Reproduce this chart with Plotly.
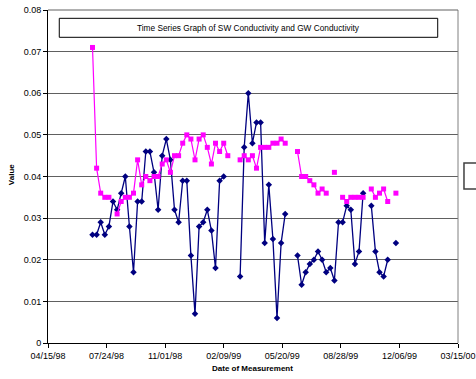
import datetime as dt
import plotly.graph_objects as go

# weekly sampling dates
start = dt.date(1998, 6, 30)
n_points = 75
dates = [start + dt.timedelta(days=7 * i) for i in range(n_points)]

sw_values = [0.026, 0.026, 0.029, 0.026, 0.028, 0.034, 0.032, 0.036, 0.040, 0.028,
             0.017, 0.034, 0.034, 0.046, 0.046, 0.041, 0.032, 0.045, 0.049, 0.044,
             0.032, 0.029, 0.039, 0.039, 0.021, 0.007, 0.028, 0.029, 0.032, 0.027,
             0.018, 0.039, 0.040, None, None, None, 0.016, 0.047, 0.060, 0.048,
             0.053, 0.053, 0.024, 0.038, 0.025, 0.006, 0.024, 0.031, None, None,
             0.021, 0.014, 0.017, 0.019, 0.020, 0.022, 0.020, 0.017, 0.018, 0.015,
             0.029, 0.029, 0.033, 0.032, 0.019, 0.022, 0.036, None, 0.033, 0.022,
             0.017, 0.016, 0.020, None, 0.024]

gw_values = [0.071, 0.042, 0.036, 0.035, 0.035, None, 0.031, 0.034, 0.035, 0.035,
             0.036, 0.044, 0.038, 0.040, 0.039, 0.040, 0.040, 0.043, 0.044, 0.041,
             0.045, 0.045, 0.048, 0.050, 0.049, 0.044, 0.049, 0.050, 0.047, 0.043,
             0.048, 0.046, 0.048, 0.045, None, None, 0.044, 0.045, 0.044, 0.045,
             0.042, 0.047, 0.047, 0.047, 0.048, 0.048, 0.049, 0.048, None, None,
             0.046, 0.040, 0.040, 0.039, 0.038, 0.036, 0.037, 0.036, None, 0.041,
             None, 0.035, 0.034, 0.035, 0.035, 0.035, 0.035, None, 0.037, 0.035,
             0.036, 0.037, 0.034, None, 0.036]

x_tick_dates = ["1998-04-15", "1998-07-24", "1998-11-01", "1999-02-09",
                "1999-05-20", "1999-08-28", "1999-12-06", "2000-03-15"]
x_tick_labels = ["04/15/98", "07/24/98", "11/01/98", "02/09/99",
                 "05/20/99", "08/28/99", "12/06/99", "03/15/00"]
y_tick_vals = [0, 0.01, 0.02, 0.03, 0.04, 0.05, 0.06, 0.07, 0.08]
y_tick_labels = ["0", "0.01", "0.02", "0.03", "0.04", "0.05", "0.06", "0.07", "0.08"]

title_text = "Time Series Graph of SW Conductivity and GW Conductivity"
x_title = "Date of Measurement"
y_title = "Value"
font_family = "Liberation Sans, Arial, sans-serif"

fig = go.Figure()
fig.add_trace(go.Scatter(
    x=dates, y=sw_values, name="SW Conductivity", mode="lines+markers",
    line=dict(color="#000080", width=1.3),
    marker=dict(symbol="diamond", size=5, color="#000080"),
    connectgaps=False,
))
fig.add_trace(go.Scatter(
    x=dates, y=gw_values, name="GW Conductivity", mode="lines+markers",
    line=dict(color="#FF00FF", width=1.2),
    marker=dict(symbol="square", size=5, color="#FF00FF"),
    connectgaps=False,
))

fig.update_layout(
    width=476, height=379,
    margin=dict(l=48, r=18, t=10, b=36, autoexpand=False),
    paper_bgcolor="white", plot_bgcolor="white",
    showlegend=False,
    font=dict(family=font_family, size=9, color="black"),
    xaxis=dict(
        type="date",
        range=[x_tick_dates[0], x_tick_dates[-1]],
        tickvals=x_tick_dates, ticktext=x_tick_labels,
        showgrid=False, zeroline=False,
        showline=True, linecolor="black", linewidth=1,
        ticks="outside", ticklen=4, tickcolor="black",
        tickfont=dict(size=9), automargin=False,
    ),
    yaxis=dict(
        range=[0, 0.08],
        tickvals=y_tick_vals, ticktext=y_tick_labels,
        showgrid=True, gridcolor="#606060", gridwidth=1,
        zeroline=False,
        showline=True, linecolor="black", linewidth=1,
        ticks="outside", ticklen=4, tickcolor="black",
        tickfont=dict(size=9), automargin=False,
    ),
    shapes=[
        dict(type="line", xref="paper", yref="paper", x0=1, x1=1, y0=0, y1=1,
             line=dict(color="#808080", width=1)),
        dict(type="line", xref="paper", yref="paper", x0=0, x1=1, y0=1, y1=1,
             line=dict(color="#606060", width=1)),
        dict(type="rect", xref="paper", yref="paper", x0=0.0275, x1=0.9505,
             y0=0.918, y1=0.975, line=dict(color="black", width=1),
             fillcolor="white", layer="above"),
        dict(type="rect", xref="paper", yref="paper", x0=1.0146, x1=1.2,
             y0=0.4625, y1=0.5405, line=dict(color="#404040", width=1.5),
             fillcolor="white", layer="above"),
    ],
    annotations=[
        dict(text=title_text, xref="paper", yref="paper", x=0.489, y=0.9465,
             showarrow=False, xanchor="center", yanchor="middle",
             font=dict(size=8.3, color="black")),
        dict(text="<b>" + x_title + "</b>", xref="paper", yref="paper",
             x=0.498, y=-0.078, showarrow=False, xanchor="center", yanchor="middle",
             font=dict(size=8, color="black")),
        dict(text="<b>" + y_title + "</b>", xref="paper", yref="paper",
             x=-0.087, y=0.505, showarrow=False, xanchor="center", yanchor="middle",
             textangle=-90, font=dict(size=8, color="black")),
    ],
)

fig.write_html("out.html")
